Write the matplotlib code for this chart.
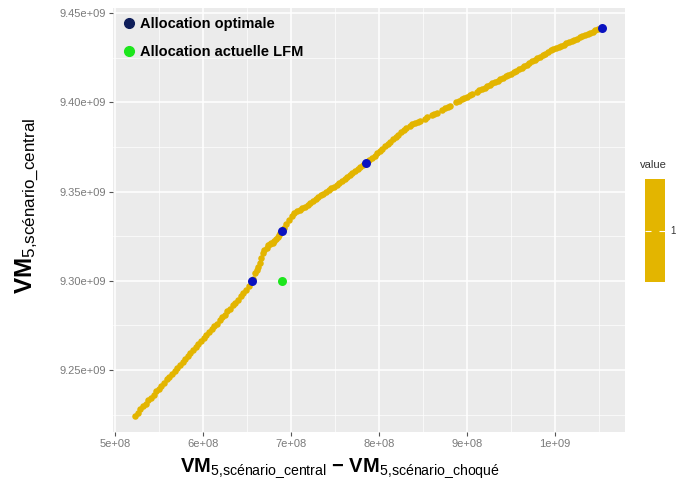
import numpy as np
import matplotlib
matplotlib.use('Agg')
import matplotlib.pyplot as plt
from matplotlib.lines import Line2D
from matplotlib.ticker import MultipleLocator, FuncFormatter

plt.rcParams['font.family'] = ['Liberation Sans', 'DejaVu Sans']
plt.rcParams['mathtext.fontset'] = 'custom'
plt.rcParams['mathtext.rm'] = 'Liberation Sans'
plt.rcParams['mathtext.it'] = 'Liberation Sans'
plt.rcParams['mathtext.bf'] = 'Liberation Sans:bold'

# frontier points (x in 1e8, y in 1e9)
front_x = [5.23, 5.26, 5.29, 5.32, 5.35, 5.38, 5.41, 5.44, 5.47, 5.50, 5.53, 5.56, 5.59, 5.62,
           5.65, 5.68, 5.71, 5.74, 5.77, 5.80, 5.83, 5.86, 5.89, 5.92, 5.95, 5.98, 6.01, 6.04,
           6.07, 6.10, 6.13, 6.16, 6.19, 6.22, 6.25, 6.28, 6.31, 6.34, 6.37, 6.40, 6.43, 6.46,
           6.49, 6.52,
           6.57, 6.59, 6.61, 6.625, 6.648, 6.659, 6.682, 6.70, 6.724, 6.745, 6.761, 6.78, 6.795,
           6.81, 6.83, 6.85, 6.864, 6.88,
           6.92, 6.95, 6.98, 7.01, 7.04, 7.07, 7.10, 7.13, 7.16, 7.19, 7.22, 7.25, 7.28, 7.31,
           7.34, 7.37, 7.40, 7.43, 7.46, 7.49, 7.52, 7.55, 7.58, 7.61, 7.64, 7.67, 7.70, 7.73,
           7.76, 7.79, 7.82,
           7.89, 7.92, 7.95, 7.98, 8.01, 8.04, 8.07, 8.10, 8.13, 8.16, 8.19, 8.22, 8.25, 8.28,
           8.31, 8.35, 8.38, 8.41, 8.44, 8.47, 8.52, 8.55, 8.60, 8.63, 8.66, 8.72, 8.75, 8.78,
           8.81, 8.88, 8.91, 8.94, 8.97, 9.00, 9.03, 9.06, 9.11, 9.14, 9.17, 9.20, 9.23, 9.26,
           9.29, 9.32, 9.35, 9.38, 9.41, 9.44, 9.47, 9.50, 9.53, 9.56, 9.59, 9.62, 9.65, 9.68,
           9.71, 9.74, 9.77, 9.80, 9.83, 9.86, 9.89, 9.92, 9.95, 9.98, 10.01, 10.04, 10.07,
           10.10, 10.13, 10.16, 10.19, 10.22, 10.25, 10.28, 10.31, 10.34, 10.37, 10.40, 10.43,
           10.46, 10.49]
front_y = [9.2245, 9.2262, 9.2280, 9.2296, 9.2311, 9.2330, 9.2345, 9.2360, 9.2380, 9.2396,
           9.2411, 9.2428, 9.2447, 9.2462, 9.2478, 9.2494, 9.2513, 9.2528, 9.2544, 9.2563,
           9.2578, 9.2596, 9.2611, 9.2630, 9.2645, 9.2660, 9.2679, 9.2694, 9.2712, 9.2728,
           9.2745, 9.2760, 9.2778, 9.2796, 9.2811, 9.2828, 9.2844, 9.2862, 9.2878, 9.2895,
           9.2912, 9.2930, 9.2947, 9.2970,
           9.3012, 9.3045, 9.3062, 9.3078, 9.3101, 9.3129, 9.3157, 9.3170, 9.3186, 9.3198,
           9.3207, 9.3210, 9.3214, 9.3222, 9.3235, 9.3247, 9.3258, 9.3268,
           9.3296, 9.3318, 9.3340, 9.3362, 9.3380, 9.3390, 9.3398, 9.3407, 9.3416, 9.3425,
           9.3434, 9.3445, 9.3456, 9.3468, 9.3478, 9.3487, 9.3497, 9.3507, 9.3518, 9.3528,
           9.3538, 9.3548, 9.3560, 9.3570, 9.3581, 9.3592, 9.3604, 9.3615, 9.3626, 9.3636,
           9.3647,
           9.3675, 9.3688, 9.3701, 9.3714, 9.3727, 9.3740, 9.3753, 9.3766, 9.3779, 9.3792,
           9.3805, 9.3818, 9.3831, 9.3844, 9.3856, 9.3868, 9.3876, 9.3884, 9.3891, 9.3897,
           9.3908, 9.3915, 9.3928, 9.3935, 9.3942, 9.3958, 9.3966, 9.3974, 9.3981, 9.4000,
           9.4008, 9.4016, 9.4024, 9.4032, 9.4040, 9.4046, 9.4058, 9.4066, 9.4074, 9.4082,
           9.4090, 9.4098, 9.4106, 9.4114, 9.4121, 9.4129, 9.4137, 9.4145, 9.4152, 9.4160,
           9.4168, 9.4176, 9.4184, 9.4193, 9.4202, 9.4209, 9.4221, 9.4229, 9.4238, 9.4246,
           9.4255, 9.4264, 9.4272, 9.4281, 9.4290, 9.4297, 9.4303, 9.4310, 9.4316, 9.4323,
           9.4330, 9.4336, 9.4343, 9.4350, 9.4356, 9.4363, 9.4370, 9.4376, 9.4383, 9.4389,
           9.4396, 9.4402, 9.4409]

opt_x = [6.553, 6.895, 7.855, 10.534]
opt_y = [9.2996, 9.3280, 9.3662, 9.4414]
lfm_x = [6.895]
lfm_y = [9.2996]

gold = '#E3B500'
bg = '#EBEBEB'

fig = plt.figure(figsize=(6.78, 4.88), dpi=100)
ax = fig.add_axes([0.1667, 0.1148, 0.7551, 0.8688])
ax.set_facecolor(bg)

ax.scatter(np.array(front_x) * 1e8, np.array(front_y) * 1e9, s=22, color=gold, linewidths=0, zorder=3)
ax.scatter(np.array(opt_x) * 1e8, np.array(opt_y) * 1e9, s=42, color='#0A12C0', linewidths=0, zorder=4)
ax.scatter(np.array(lfm_x) * 1e8, np.array(lfm_y) * 1e9, s=42, color='#1CE61C', linewidths=0, zorder=4)

ax.set_xlim(4.98e8, 10.795e8)
ax.set_ylim(9.2153e9, 9.4528e9)

ax.xaxis.set_major_locator(MultipleLocator(1e8))
ax.xaxis.set_minor_locator(MultipleLocator(0.5e8))
ax.yaxis.set_major_locator(MultipleLocator(0.05e9))
ax.yaxis.set_minor_locator(MultipleLocator(0.025e9))
ax.xaxis.set_major_formatter(FuncFormatter(lambda v, p: f'{v:.0e}'))
ax.yaxis.set_major_formatter(FuncFormatter(lambda v, p: f'{v:.2e}'))

ax.grid(which='major', color='white', linewidth=1.1, zorder=0)
ax.grid(which='minor', color='white', linewidth=0.5, zorder=0)
ax.set_axisbelow(True)
for s in ax.spines.values():
    s.set_visible(False)
ax.tick_params(which='major', length=3, color='#555555', labelcolor='#7A7A7A', labelsize=8, pad=2)
ax.tick_params(which='minor', length=0)

ax.set_xlabel(r'$\mathbf{VM}_{5{,}scénario\_central}$ − $\mathbf{VM}_{5{,}scénario\_choqué}$',
              fontsize=14.5, fontweight='bold')
ax.xaxis.set_label_coords(0.443, -0.058)
ax.set_ylabel(r'$\mathbf{VM}_{5{,}scénario\_central}$', fontsize=17.5, fontweight='bold')
ax.yaxis.set_label_coords(-0.141, 0.533)

handles = [Line2D([], [], marker='o', linestyle='', color='#0F1E5A', markersize=7),
           Line2D([], [], marker='o', linestyle='', color='#1CE61C', markersize=7)]
ax.legend(handles, ['Allocation optimale', 'Allocation actuelle LFM'], loc='upper left',
          frameon=False, prop={'weight': 'bold', 'size': 10.5}, handletextpad=0.25,
          labelspacing=0.95, borderaxespad=0.1, handlelength=1.0, borderpad=0.5)

# colour bar legend
cax = fig.add_axes([645 / 678, (488 - 282) / 488, 20 / 678, 103 / 488])
cax.set_facecolor(gold)
cax.set_xlim(0, 1)
cax.set_ylim(0, 1)
cax.set_xticks([])
cax.set_yticks([0.5])
cax.set_yticklabels(['1'])
cax.tick_params(axis='y', direction='in', left=True, right=True, labelleft=False,
                labelright=True, color='white', labelcolor='#333333', labelsize=7, length=4, pad=4)
for s in cax.spines.values():
    s.set_visible(False)
fig.text(640 / 678, 1 - 165 / 488, 'value', fontsize=8, color='#333333', va='center', ha='left')

fig.savefig('out.png', dpi=100)
